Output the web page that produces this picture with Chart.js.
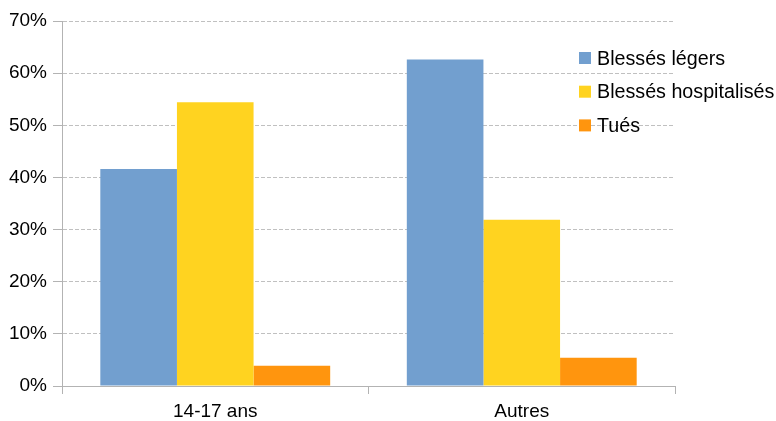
<!DOCTYPE html>
<html>
<head>
<meta charset="utf-8">
<script src="https://cdn.jsdelivr.net/npm/chart.js@4/dist/chart.umd.min.js"></script>
<style>
  html, body { margin: 0; padding: 0; background: #fff; }
  #wrap { width: 776px; height: 421px; }
</style>
</head>
<body>
<div id="wrap"><canvas id="myChart" width="776" height="421"></canvas></div>
<script>
// data
const categories = ["14-17 ans", "Autres"];
const seriesNames = ["Blessés légers", "Blessés hospitalisés", "Tués"];
const legers = [41.6, 62.6];
const hospitalises = [54.4, 31.9];
const tues = [3.9, 5.4];
const yTicks = [0, 10, 20, 30, 40, 50, 60, 70];

const colors = ["#729fcf", "#ffd320", "#ff950e"];
const font = { family: "'Liberation Sans', Arial, sans-serif", size: 19 };
const legendFontSize = 19.7;

// legend drawn over the plot, on the right
const legendPlugin = {
  id: "sideLegend",
  afterDraw(chart) {
    const ctx = chart.ctx;
    ctx.save();
    ctx.font = legendFontSize + "px " + font.family;
    ctx.textBaseline = "alphabetic";
    ctx.textAlign = "left";
    chart.data.datasets.forEach((ds, i) => {
      const y = 52 + i * 33.7;
      ctx.fillStyle = ds.backgroundColor;
      ctx.fillRect(579, y, 12, 12);
      ctx.fillStyle = "#000";
      ctx.fillText(ds.label, 597, y + 12.5);
    });
    ctx.restore();
  },
};

const ctx = document.getElementById("myChart");

new Chart(ctx, {
  type: "bar",
  data: {
    labels: categories,
    datasets: [
      { label: seriesNames[0], data: legers, backgroundColor: colors[0] },
      { label: seriesNames[1], data: hospitalises, backgroundColor: colors[1] },
      { label: seriesNames[2], data: tues, backgroundColor: colors[2] },
    ],
  },
  options: {
    responsive: false,
    animation: false,
    layout: { padding: { left: 0, right: 101, top: 21, bottom: 0 } },
    datasets: {
      bar: { categoryPercentage: 0.75, barPercentage: 1 },
    },
    plugins: {
      legend: { display: false },
      tooltip: { enabled: false },
    },
    scales: {
      x: {
        grid: {
          offset: true,
          drawOnChartArea: false,
          drawTicks: true,
          tickLength: 8,
          tickColor: "#b3b3b3",
        },
        border: { color: "#b3b3b3", width: 1 },
        ticks: { color: "#000", font: font, padding: 6, maxRotation: 0 },
        afterFit(scale) {
          scale.height = 35;
        },
      },
      y: {
        min: 0,
        max: 70,
        afterBuildTicks(scale) {
          scale.ticks = yTicks.map((v) => ({ value: v }));
        },
        grid: {
          color: "#c0c0c0",
          tickColor: "#b3b3b3",
          tickLength: 9,
        },
        border: { color: "#b3b3b3", width: 1, dash: [4, 2] },
        ticks: {
          color: "#000",
          font: font,
          padding: 6,
          callback: function (value) {
            return value + "%";
          },
        },
        afterFit(scale) {
          scale.width = 62;
        },
      },
    },
  },
  plugins: [legendPlugin],
});
</script>
</body>
</html>
